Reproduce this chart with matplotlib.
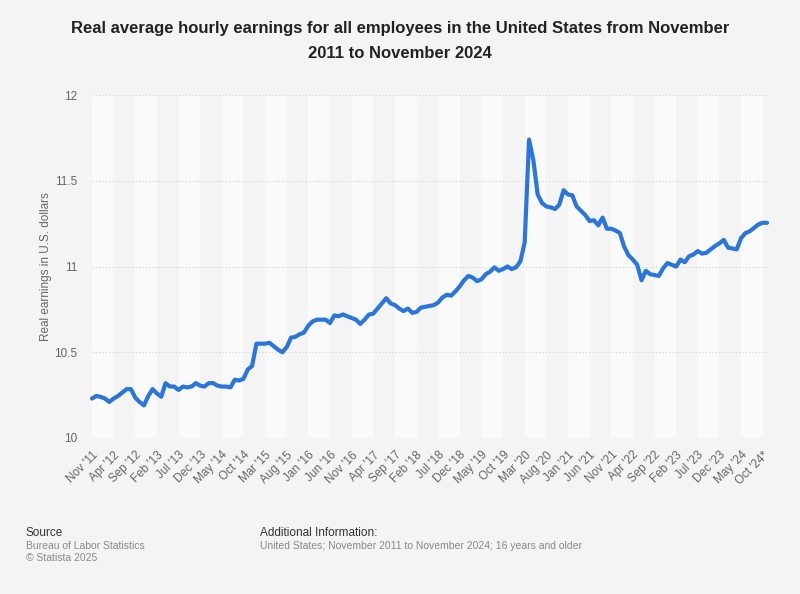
import numpy as np
import matplotlib
matplotlib.use("Agg")
from matplotlib import pyplot as plt

# monthly real earnings, Nov 2011 .. Nov 2024
earnings = [
  10.23, 10.245, 10.24, 10.23, 10.21, 10.23, 10.245, 10.265, 10.285, 10.285,
  10.235, 10.21, 10.19, 10.245, 10.285, 10.26, 10.24, 10.32, 10.30, 10.30,
  10.28, 10.30, 10.295, 10.30, 10.32, 10.305, 10.30, 10.32, 10.32, 10.305,
  10.30, 10.30, 10.295, 10.34, 10.335, 10.345, 10.40, 10.42, 10.55, 10.55,
  10.55, 10.555, 10.535, 10.515, 10.50, 10.53, 10.585, 10.59, 10.605, 10.615,
  10.655, 10.68, 10.69, 10.69, 10.69, 10.67, 10.715, 10.71, 10.72, 10.71,
  10.70, 10.69, 10.665, 10.69, 10.72, 10.725, 10.755, 10.785, 10.815, 10.785,
  10.775, 10.755, 10.74, 10.755, 10.73, 10.735, 10.76, 10.765, 10.77, 10.775,
  10.79, 10.82, 10.835, 10.83, 10.855, 10.885, 10.92, 10.945, 10.935, 10.915,
  10.925, 10.955, 10.97, 10.995, 10.975, 10.985, 11.00, 10.985, 10.995, 11.03,
  11.14, 11.74, 11.62, 11.42, 11.37, 11.35, 11.345, 11.335, 11.36, 11.445,
  11.42, 11.415, 11.35, 11.325, 11.30, 11.265, 11.27, 11.24, 11.285, 11.22,
  11.22, 11.21, 11.195, 11.115, 11.065, 11.04, 11.01, 10.92, 10.975, 10.955,
  10.95, 10.945, 10.99, 11.02, 11.01, 11.00, 11.04, 11.025, 11.06, 11.07,
  11.09, 11.075, 11.08, 11.10, 11.12, 11.135, 11.155, 11.11, 11.105, 11.10,
  11.165, 11.195, 11.205, 11.225, 11.245, 11.255, 11.255,
]

# one label every 5 months
tick_labels = [
  "Nov '11", "Apr '12", "Sep '12", "Feb '13", "Jul '13", "Dec '13", "May '14",
  "Oct '14", "Mar '15", "Aug '15", "Jan '16", "Jun '16", "Nov '16", "Apr '17",
  "Sep '17", "Feb '18", "Jul '18", "Dec '18", "May '19", "Oct '19", "Mar '20",
  "Aug '20", "Jan '21", "Jun '21", "Nov '21", "Apr '22", "Sep '22", "Feb '23",
  "Jul '23", "Dec '23", "May '24", "Oct '24*",
]
y_ticks = [10, 10.5, 11, 11.5, 12]
y_tick_labels = ["10", "10.5", "11", "11.5", "12"]

bg = "#f4f4f4"
blue = "#2a76dd"
grey_txt = "#666666"

plt.rcParams['font.family'] = ['Liberation Sans', 'DejaVu Sans']

fig = plt.figure(figsize=(8, 5.94), dpi=100, facecolor=bg)
ax = fig.add_axes([92/800, 1 - 438/594, 675/800, 343/594])
ax.set_facecolor(bg)

x = np.arange(len(earnings))
n = len(earnings) - 1

# alternating vertical bands between ticks
for k, start in enumerate(range(0, n, 5)):
  if k % 2 == 0:
    ax.axvspan(start, min(start + 5, n), color="#fafafa", lw=0, zorder=0)

for yv in y_ticks:
  ax.axhline(yv, color="#d0d0d0", lw=0.8, ls=(0, (1, 2)), zorder=1)

ax.plot(x, earnings, color=blue, lw=3.0, solid_joinstyle="round",
        solid_capstyle="round", clip_on=False, zorder=3)

ax.set_xlim(0, n)
ax.set_ylim(10, 12)
ax.set_yticks(y_ticks)
ax.set_yticklabels(y_tick_labels, color=grey_txt, fontsize=8.5)
ax.set_xticks(x[::5])
ax.set_xticklabels(tick_labels, rotation=45, ha="right", rotation_mode="anchor",
                   color=grey_txt, fontsize=8.5)
ax.tick_params(axis="both", length=0)
ax.tick_params(axis="y", pad=10.5)
ax.tick_params(axis="x", pad=8)
for s in ax.spines.values():
  s.set_visible(False)

ax.set_ylabel("Real earnings in U.S. dollars", color=grey_txt, fontsize=8.5, labelpad=2)

fig.text(0.5, 1 - 41/594,
         "Real average hourly earnings for all employees in the United States from November\n2011 to November 2024",
         ha="center", va="center", fontsize=12, fontweight="bold", color="#222222",
         linespacing=1.75)

# footer
fig.text(26/800, 1 - 533/594, "Source", fontsize=8.5, color="#333333", va="center")
fig.text(26/800, 1 - 546/594, "Bureau of Labor Statistics", fontsize=7.5, color="#888888", va="center")
fig.text(26/800, 1 - 558/594, "\u00a9 Statista 2025", fontsize=7.5, color="#888888", va="center")
fig.text(260/800, 1 - 533/594, "Additional Information:", fontsize=8.5, color="#333333", va="center")
fig.text(260/800, 1 - 546/594, "United States; November 2011 to November 2024; 16 years and older",
         fontsize=7.5, color="#888888", va="center")

fig.savefig("out.png", dpi=100, facecolor=bg)
